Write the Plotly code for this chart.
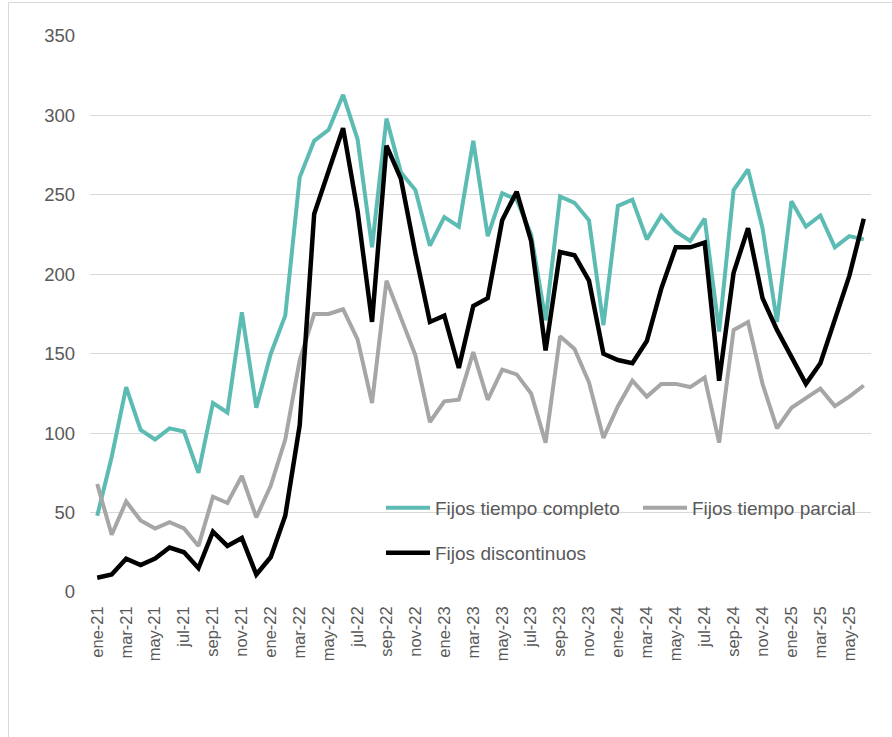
import plotly.graph_objects as go

months = ["ene", "feb", "mar", "abr", "may", "jun", "jul", "ago", "sep", "oct", "nov", "dic"]
years = ["21", "22", "23", "24", "25"]
categories = [f"{m}-{y}" for y in years for m in months][:54]

tiempo_completo = [48, 85, 129, 102, 96, 103, 101, 75, 119, 113, 176, 116,
                   150, 174, 261, 284, 291, 313, 285, 217, 298, 264, 253, 218,
                   236, 230, 284, 224, 251, 247, 225, 171, 249, 245, 234, 168,
                   243, 247, 222, 237, 227, 221, 235, 164, 253, 266, 229, 170,
                   246, 230, 237, 217, 224, 222]
tiempo_parcial = [68, 36, 57, 45, 40, 44, 40, 29, 60, 56, 73, 47,
                  67, 96, 146, 175, 175, 178, 159, 119, 196, 173, 149, 107,
                  120, 121, 151, 121, 140, 137, 125, 94, 161, 153, 132, 97,
                  117, 133, 123, 131, 131, 129, 135, 94, 165, 170, 131, 103,
                  116, 122, 128, 117, 123, 130]
discontinuos = [9, 11, 21, 17, 21, 28, 25, 15, 38, 29, 34, 11,
                22, 48, 105, 238, 265, 292, 240, 170, 281, 260, 213, 170,
                174, 141, 180, 185, 234, 252, 221, 152, 214, 212, 196, 150,
                146, 144, 158, 191, 217, 217, 220, 133, 201, 229, 185, 165,
                148, 131, 144, 171, 199, 235]

y_ticks = [0, 50, 100, 150, 200, 250, 300, 350]
x_tick_labels = categories[::2]

W, H = 892, 737
L, R, T, B = 90, 21, 36, 145
PW, PH = W - L - R, H - T - B

def px_x(p):
    return (p - L) / PW

def px_y(p):
    return (H - B - p) / PH

txt = "#595959"
font_family = "Liberation Sans, Arial, sans-serif"

fig = go.Figure()
fig.add_trace(go.Scatter(x=categories, y=tiempo_completo, mode="lines",
                         name="Fijos tiempo completo",
                         line=dict(color="#5CBBB3", width=4), legend="legend"))
fig.add_trace(go.Scatter(x=categories, y=tiempo_parcial, mode="lines",
                         name="Fijos tiempo parcial",
                         line=dict(color="#A6A6A6", width=4), legend="legend2"))
fig.add_trace(go.Scatter(x=categories, y=discontinuos, mode="lines",
                         name="Fijos discontinuos",
                         line=dict(color="#000000", width=4.5), legend="legend3"))

leg_common = dict(orientation="h", xanchor="left", yanchor="middle",
                  font=dict(family=font_family, size=19, color=txt),
                  bgcolor="rgba(0,0,0,0)", itemwidth=44, borderwidth=0)

fig.update_layout(
    width=W, height=H,
    margin=dict(l=L, r=R, t=T, b=B, pad=0),
    paper_bgcolor="white", plot_bgcolor="white",
    font=dict(family=font_family, size=16, color=txt),
    showlegend=True,
    legend=dict(x=px_x(381), y=px_y(508), **leg_common),
    legend2=dict(x=px_x(638), y=px_y(508), **leg_common),
    legend3=dict(x=px_x(381), y=px_y(553), **leg_common),
    xaxis=dict(type="category", range=[-0.5, len(categories) - 0.5],
               tickmode="array", tickvals=x_tick_labels, ticktext=x_tick_labels,
               tickangle=-90, showgrid=False, showline=False, zeroline=False,
               ticks="", tickfont=dict(size=16.5, color=txt), ticklabelstandoff=10),
    yaxis=dict(range=[0, 350], tickmode="array", tickvals=y_ticks,
               showgrid=True, gridcolor="#D9D9D9", gridwidth=1,
               zeroline=False, showline=False, ticks="",
               tickfont=dict(size=18.5, color=txt), ticklabelstandoff=14),
    shapes=[dict(type="rect", xref="paper", yref="paper",
                 x0=px_x(8.5), x1=px_x(905), y0=px_y(750), y1=px_y(2.5),
                 line=dict(color="#D9D9D9", width=1), fillcolor="rgba(0,0,0,0)",
                 layer="below")],
)

fig.write_html("out.html", config={"displayModeBar": False},
               post_script="document.body.style.margin='0';")
